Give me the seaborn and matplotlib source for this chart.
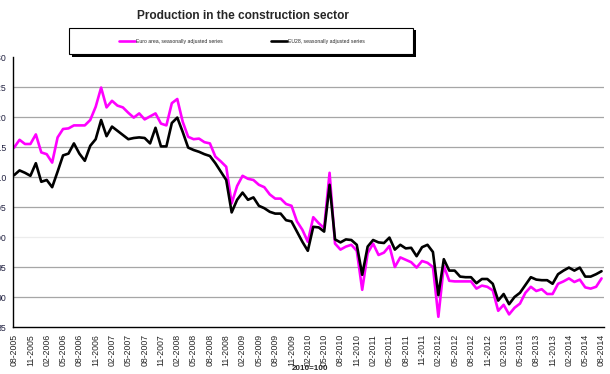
import numpy as np
import pandas as pd
import matplotlib
matplotlib.use('Agg')
import matplotlib.pyplot as plt
import seaborn as sns
from matplotlib.patches import Rectangle

# ---- data (index 2010=100), monthly 08-2005 .. 08-2014 ----
start_month = "2005-08-01"
n_months = 109

euro_area = [
    114.9, 116.2, 115.5, 115.5, 117.1, 114.1, 113.8, 112.4, 116.6, 118.0,
    118.1, 118.6, 118.6, 118.6, 119.5, 121.7, 124.9, 121.6, 122.7, 121.9,
    121.6, 120.7, 119.9, 120.6, 119.6, 120.1, 120.6, 118.9, 118.6, 122.3,
    123.0, 119.2, 116.7, 116.3, 116.4, 115.8, 115.6, 113.4, 112.6, 111.7,
    105.6, 108.5, 110.2, 109.7, 109.5, 108.7, 108.3, 107.1, 106.4, 106.4,
    105.5, 105.2, 102.6, 101.2, 99.2, 103.3, 102.3, 101.5, 110.7, 98.9,
    97.9, 98.4, 98.7, 97.7, 91.2, 97.3, 98.9, 97.0, 97.4, 98.5,
    95.0, 96.6, 96.2, 95.8, 94.9, 96.0, 95.7, 95.0, 86.7, 95.2,
    92.7, 92.6, 92.6, 92.6, 92.6, 91.4, 91.9, 91.7, 91.1, 87.7,
    88.7, 87.1, 88.2, 88.9, 90.7, 91.7, 91.0, 91.3, 90.5, 90.5,
    92.2, 92.6, 93.1, 92.5, 92.9, 91.6, 91.4, 91.7, 93.1,
]

eu28 = [
    110.3, 111.1, 110.7, 110.2, 112.3, 109.2, 109.5, 108.3, 110.9, 113.6,
    113.9, 115.6, 113.9, 112.7, 115.2, 116.3, 119.5, 116.8, 118.4, 117.7,
    117.0, 116.3, 116.5, 116.6, 116.5, 115.6, 118.2, 115.1, 115.1, 119.0,
    119.9, 117.5, 114.9, 114.5, 114.2, 113.8, 113.5, 112.3, 110.9, 109.5,
    104.1, 106.2, 107.4, 106.2, 106.6, 105.2, 104.8, 104.2, 103.9, 103.9,
    102.8, 102.6, 100.9, 99.2, 97.7, 101.7, 101.6, 100.9, 108.7, 99.6,
    99.1, 99.6, 99.5, 98.7, 93.7, 98.4, 99.5, 99.1, 99.0, 99.9,
    97.9, 98.7, 98.1, 98.2, 96.8, 98.3, 98.7, 97.5, 90.3, 96.3,
    94.4, 94.4, 93.4, 93.3, 93.3, 92.3, 93.0, 93.0, 92.2, 89.4,
    90.5, 88.8, 90.0, 90.7, 92.0, 93.3, 92.9, 92.8, 92.8, 92.2,
    93.8, 94.4, 94.9, 94.4, 94.9, 93.4, 93.4, 93.8, 94.3,
]

series_labels = ["Euro area, seasonally adjusted series", "EU28, seasonally adjusted series"]
y_ticks = [85, 90, 95, 100, 105, 110, 115, 120, 125, 130]
grid_levels = [90, 95, 105, 110, 115, 120, 125]

months = pd.date_range(start_month, periods=n_months, freq="MS")
month_labels = list(months.strftime("%m-%Y"))
df = pd.DataFrame({"t": np.arange(n_months), "euro": euro_area, "eu28": eu28})

sns.set_style("white")
plt.rcParams['font.family'] = ['Liberation Sans', 'DejaVu Sans']

W, H = 610, 374
fig = plt.figure(figsize=(W / 100, H / 100), dpi=100)
ax = fig.add_axes([13 / W, 47 / H, (604 - 13) / W, (327 - 57) / H])

# horizontal grid (the 100 line is very faint in the original)
for v in grid_levels:
    ax.axhline(v, color="#a6a6a6", lw=0.9, zorder=1)
ax.axhline(100, color="#ececec", lw=0.9, zorder=1)

sns.lineplot(data=df, x="t", y="euro", color="#ff00ff", lw=1.9, ax=ax, label=series_labels[0])
sns.lineplot(data=df, x="t", y="eu28", color="black", lw=1.9, ax=ax, label=series_labels[1])

ax.set_xlim(-0.2, 108.45)
ax.set_ylim(85, 130)
ax.set_yticks(y_ticks)
ax.set_yticklabels([str(v) for v in y_ticks], fontsize=6.3, color="#1f1f3f")
ax.set_xticks(df["t"][::3])
ax.set_xticklabels(month_labels[::3], rotation=90, fontsize=6.3)
ax.tick_params(axis="both", direction="out", length=3, width=0.8, pad=2, color="black")
ax.set_xlabel("")
ax.set_ylabel("")
for s in ["top", "right"]:
    ax.spines[s].set_visible(False)
for s in ["left", "bottom"]:
    ax.spines[s].set_color("black")
    ax.spines[s].set_linewidth(1.0)

handles, labels = ax.get_legend_handles_labels()
ax.get_legend().remove()

# legend frame with a solid drop shadow
bx0, by0, bx1, by1 = 69, 28, 413, 54
fig.patches.append(Rectangle(((bx0 + 2.5) / W, 1 - (by1 + 2.5) / H), (bx1 - bx0) / W, (by1 - by0) / H,
                             transform=fig.transFigure, facecolor="black", edgecolor="none", zorder=0))
fig.patches.append(Rectangle((bx0 / W, 1 - by1 / H), (bx1 - bx0) / W, (by1 - by0) / H,
                             transform=fig.transFigure, facecolor="white", edgecolor="black", lw=0.8, zorder=1))
fig.legend(handles, labels, loc="center", bbox_to_anchor=(242 / W, 1 - 41 / H), ncol=2,
           frameon=False, fontsize=3.7, handlelength=3, handletextpad=0.2, columnspacing=9.5)

fig.text(243 / W, 1 - 16 / H, "Production in the construction sector", ha="center", va="center",
         fontsize=8.6, fontweight="bold")
fig.text(310 / W, 1 - 369 / H, "2010=100", ha="center", va="center", fontsize=5.8, fontweight="bold")

fig.savefig("out.png", dpi=100, facecolor="white")
